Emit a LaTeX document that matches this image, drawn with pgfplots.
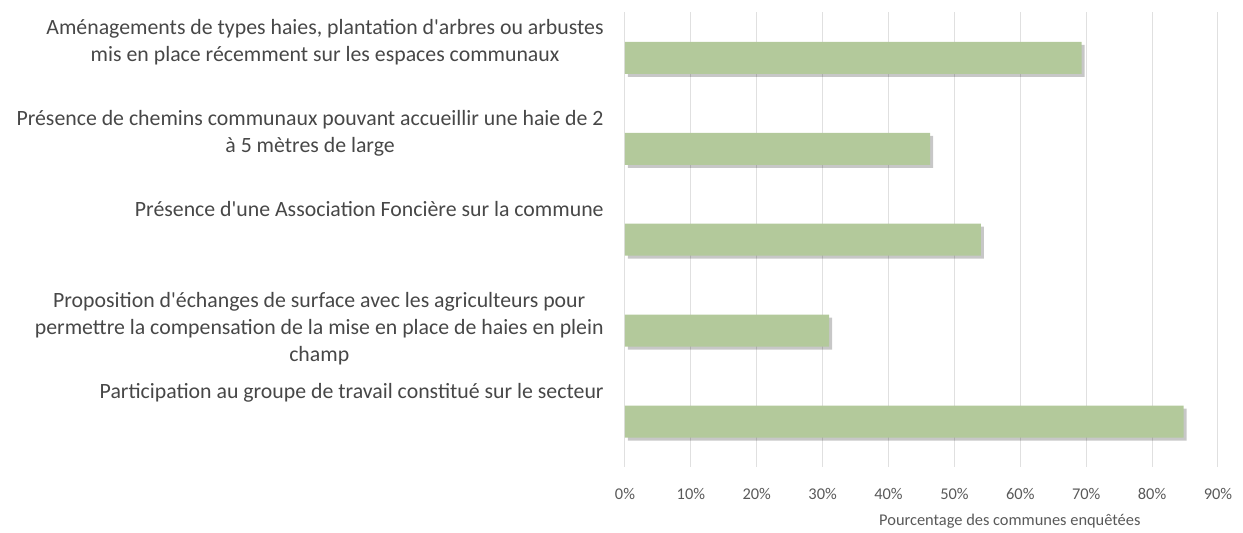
\documentclass[border=0pt]{standalone}
\usepackage{fontspec}
\setmainfont{Carlito}
\usepackage{pgfplots}
\pgfplotsset{compat=1.18}
\usetikzlibrary{shadows}
\definecolor{barfill}{HTML}{B3C99B}
\definecolor{gridc}{HTML}{E0E0E0}
\definecolor{txt}{HTML}{474747}
\definecolor{tickc}{HTML}{595959}
\newcommand{\q}{\textquotesingle}

\begin{document}
\begin{tikzpicture}
\path[use as bounding box] (-312.5pt,-33pt) rectangle (309pt,233.5pt);
\begin{axis}[at={(0,0)},anchor=south west,scale only axis,
  width=296.5pt,height=227.25pt,
  xbar,bar width=16pt,
  xmin=0,xmax=90,ymin=0.5,ymax=5.5,y dir=reverse,
  axis line style={draw=none},major tick length=0pt,
  xtick={0,10,...,90},
  xticklabels={0\%,10\%,20\%,30\%,40\%,50\%,60\%,70\%,80\%,90\%},
  xmajorgrids,grid style={gridc,line width=0.5pt},
  x tick label style={font=\fontsize{8.2}{10}\selectfont,text=tickc,yshift=-7pt},
  ytick={1,2,3,4,5},
  yticklabels={
    {Aménagements de types haies, plantation d\q arbres ou arbustes\\mis en place récemment sur les espaces communaux},
    {Présence de chemins communaux pouvant accueillir une haie de 2\\à 5 mètres de large},
    {Présence d\q une Association Foncière sur la commune},
    {Proposition d\q échanges de surface avec les agriculteurs pour\\permettre la compensation de la mise en place de haies en plein\\champ},
    {Participation au groupe de travail constitué sur le secteur}},
  y tick label style={align=center,anchor=north east,inner sep=0pt,
    font=\fontsize{10.9}{13.5}\selectfont,text=txt,xshift=-10.5pt,yshift=19.5pt},
  xlabel={Pourcentage des communes enquêtées},
  xlabel style={at={(axis description cs:0.649,0)},anchor=center,yshift=-27pt,
    font=\fontsize{8.2}{10}\selectfont,text=tickc},
]
\addplot[fill=barfill,draw=none,
  drop shadow={shadow xshift=1.5pt,shadow yshift=-1.5pt,fill=black,opacity=0.22}]
  coordinates {(69.3,1) (46.3,2) (54.0,3) (31.0,4) (84.8,5)};
\end{axis}
\end{tikzpicture}
\end{document}
